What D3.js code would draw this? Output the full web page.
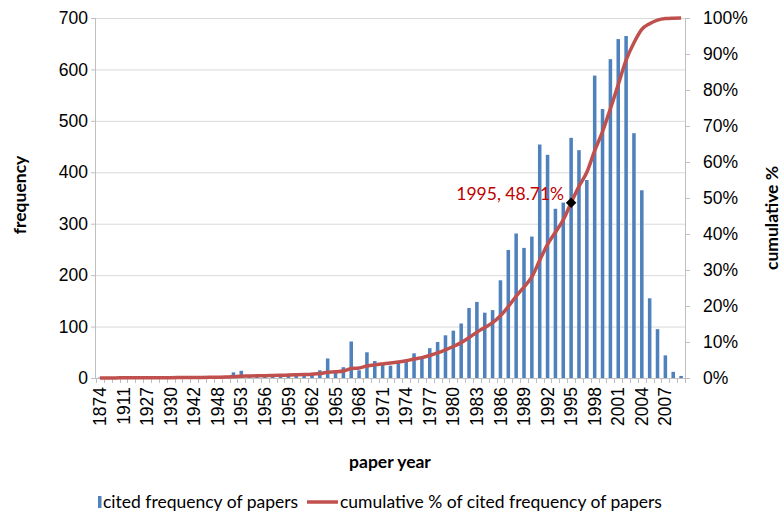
<!DOCTYPE html>
<html>
<head>
<meta charset="utf-8">
<style>
  body { margin: 0; background: #fff; }
  svg { font-family: Lato, "Open Sans", sans-serif; }
  .axis path, .axis line { stroke: #bfbfbf; }
  .axis text { fill: #000; font-size: 17.5px; }
</style>
</head>
<body>
<svg width="782" height="514"></svg>
<script src="https://cdn.jsdelivr.net/npm/d3@7"></script>
<script>
const years = ["1874","1896","1905","1911","1916","1922","1927","1928","1929","1930","1935","1938","1942","1945","1947","1948","1951","1952",
  "1953","1954","1955","1956","1957","1958","1959","1960","1961","1962","1963","1964","1965","1966","1967","1968","1969","1970",
  "1971","1972","1973","1974","1975","1976","1977","1978","1979","1980","1981","1982","1983","1984","1985","1986","1987","1988",
  "1989","1990","1991","1992","1993","1994","1995","1996","1997","1998","1999","2000","2001","2002","2003","2004","2005","2006",
  "2007","2008","2009"];
const frequency = [1,1,1,1,1,1,1,1,1,1,2,1,2,2,2,3,4,11,
  14,3,5,4,6,5,6,7,8,10,15,38,10,21,71,15,50,33,
  27,24,29,32,48,38,58,70,83,92,106,136,148,127,132,190,249,281,
  253,275,454,434,329,341,467,443,385,588,523,620,659,665,476,365,155,95,
  44,12,4];
const cumulative = [0.01,0.02,0.03,0.04,0.05,0.06,0.07,0.08,0.09,0.10,0.12,0.13,0.15,0.17,0.19,0.22,0.26,0.38,
  0.52,0.55,0.60,0.64,0.70,0.75,0.82,0.89,0.97,1.07,1.22,1.61,1.71,1.93,2.65,2.80,3.31,3.65,
  3.92,4.17,4.46,4.79,5.28,5.66,6.26,6.97,7.81,8.75,9.83,11.22,12.73,14.02,15.36,17.30,19.84,22.70,
  25.28,28.08,32.71,37.13,40.48,43.95,48.71,53.22,57.15,63.14,68.47,74.78,81.50,88.27,93.12,96.84,98.42,99.39,
  99.84,99.96,100];
const leftTicks = [0,100,200,300,400,500,600,700];
const rightTicks = [0,10,20,30,40,50,60,70,80,90,100];
const markYear = "1995";

const svg = d3.select("svg");
const plotL = 96, plotR = 685, plotT = 18, plotB = 378;
const fs = "17.5px";

const x = d3.scaleBand().domain(years).range([plotL, plotR]).paddingInner(0.55).paddingOuter(0.275);
const yL = d3.scaleLinear().domain([0, 700]).range([plotB, plotT]);
const yR = d3.scaleLinear().domain([0, 100]).range([plotB, plotT]);
const step = x.step();
const edge0 = x(years[0]) - x.paddingInner() * step / 2;

// gridlines
svg.append("g").selectAll("line").data(leftTicks.slice(1)).enter().append("line")
  .attr("x1", plotL).attr("x2", plotR)
  .attr("y1", d => yL(d) + 0.5).attr("y2", d => yL(d) + 0.5)
  .attr("stroke", "#d9d9d9").attr("stroke-width", 1);

// left axis
const ga = svg.append("g").attr("class", "axis").attr("transform", `translate(${plotL},0)`)
  .call(d3.axisLeft(yL).tickValues(leftTicks).tickSize(5).tickPadding(3));
ga.select(".domain").attr("d", `M-0.5,${plotT}V${plotB}`);

// right axis
const gr = svg.append("g").attr("class", "axis").attr("transform", `translate(${plotR},0)`)
  .call(d3.axisRight(yR).tickValues(rightTicks).tickFormat(d => d + "%").tickSize(5).tickPadding(13));
gr.select(".domain").attr("d", `M0.5,${plotT}V${plotB}`);

// bars
svg.append("g").selectAll("rect").data(years).enter().append("rect")
  .attr("x", d => x(d))
  .attr("width", x.bandwidth())
  .attr("y", (d, i) => yL(frequency[i]))
  .attr("height", (d, i) => plotB - yL(frequency[i]))
  .attr("fill", "#4f81bd");

// bottom axis
const gx = svg.append("g").attr("class", "axis").attr("transform", `translate(0,${plotB})`)
  .call(d3.axisBottom(x).tickValues(years.filter((d, i) => i % 3 === 0)).tickSize(0).tickPadding(0));
gx.select(".domain").attr("d", `M${plotL},0.5H${plotR}`);
gx.selectAll(".tick text")
  .attr("transform", "rotate(-90)")
  .attr("text-anchor", "end")
  .attr("x", -9).attr("y", 0).attr("dy", "0.35em");
gx.append("g").selectAll("line").data(d3.range(years.length + 1)).enter().append("line")
  .attr("x1", i => Math.round(edge0 + i * step) + 0.5)
  .attr("x2", i => Math.round(edge0 + i * step) + 0.5)
  .attr("y1", 0).attr("y2", 5)
  .attr("stroke", "#bfbfbf");

// cumulative line
const line = d3.line()
  .x((d, i) => x(years[i]) + x.bandwidth() / 2)
  .y(d => yR(d))
  .curve(d3.curveMonotoneX);
svg.append("path").datum(cumulative)
  .attr("d", line)
  .attr("fill", "none")
  .attr("stroke", "#c0504d")
  .attr("stroke-width", 3.5)
  .attr("stroke-linejoin", "round");

// marker + label
const mi = years.indexOf(markYear);
const mx = x(markYear) + x.bandwidth() / 2, my = yR(cumulative[mi]);
svg.append("path")
  .attr("d", d3.symbol(d3.symbolDiamond2, 70)())
  .attr("transform", `translate(${mx},${my})`)
  .attr("fill", "#000");
svg.append("text")
  .attr("x", mx - 7).attr("y", my - 3)
  .attr("text-anchor", "end")
  .attr("fill", "#c00000")
  .style("font-size", fs)
  .text(`${markYear}, ${cumulative[mi].toFixed(2)}%`);

// axis titles
svg.append("text").attr("transform", "translate(26,195) rotate(-90)")
  .attr("text-anchor", "middle").style("font-size", fs).style("font-weight", "bold").text("frequency");
svg.append("text").attr("transform", "translate(778,218) rotate(-90)")
  .attr("text-anchor", "middle").style("font-size", fs).style("font-weight", "bold").text("cumulative %");
svg.append("text").attr("x", 390).attr("y", 468)
  .attr("text-anchor", "middle").style("font-size", fs).style("font-weight", "bold").text("paper year");

// legend
const lg = svg.append("g").attr("transform", "translate(0,508)");
lg.append("rect").attr("x", 98).attr("y", -12).attr("width", 3.5).attr("height", 12).attr("fill", "#4f81bd");
lg.append("text").attr("x", 103).attr("y", 0).style("font-size", fs).text("cited frequency of papers");
lg.append("line").attr("x1", 307).attr("x2", 338).attr("y1", -6).attr("y2", -6)
  .attr("stroke", "#c0504d").attr("stroke-width", 3.5);
lg.append("text").attr("x", 340).attr("y", 0).style("font-size", fs).text("cumulative % of cited frequency of papers");
</script>
</body>
</html>
